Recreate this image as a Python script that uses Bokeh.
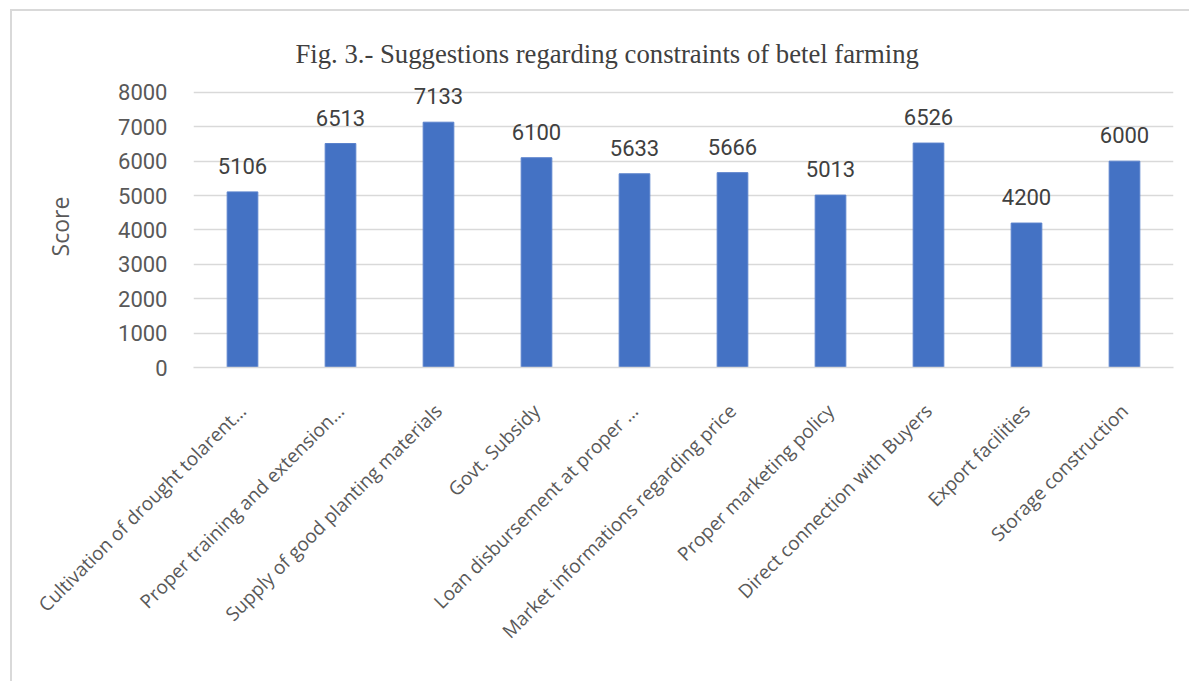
import math
from bokeh.plotting import figure
from bokeh.models import ColumnDataSource, LabelSet, FixedTicker, Range1d
from bokeh.core.properties import value
from bokeh.embed import file_html
from bokeh.resources import INLINE

categories = [
    "Cultivation of drought tolarent…",
    "Proper training and extension…",
    "Supply of good planting materials",
    "Govt. Subsidy",
    "Loan disbursement at proper …",
    "Market informations regarding price",
    "Proper marketing policy",
    "Direct connection with Buyers",
    "Export facilities",
    "Storage construction",
]
scores = [5106, 6513, 7133, 6100, 5633, 5666, 5013, 6526, 4200, 6000]
score_labels = [str(v) for v in scores]
y_ticks = [0, 1000, 2000, 3000, 4000, 5000, 6000, 7000, 8000]
title_text = "Fig. 3.- Suggestions regarding constraints of betel farming"
y_label = "Score"

src = ColumnDataSource(dict(cat=categories, score=scores, label=score_labels))

p = figure(
    x_range=categories,
    y_range=Range1d(0, 8200),
    width=1179,
    height=672,
    output_backend="svg",
    toolbar_location=None,
    min_border_left=181,
    min_border_right=18,
    min_border_top=74,
    min_border_bottom=316,
)
p.styles = {
    "margin-left": "10px",
    "margin-top": "9px",
    "border-left": "2px solid #d9d9d9",
    "border-top": "2px solid #d9d9d9",
}

p.title.text = title_text
p.title.text_font = "Liberation Serif"
p.title.text_font_size = "26.7px"
p.title.text_font_style = "normal"
p.title.text_color = "#404040"
p.title.align = "left"
p.title.offset = 102
p.title.standoff = 33

p.vbar(x="cat", top="score", width=0.313, source=src,
       fill_color="#4472C4", line_color="#5a82cc", line_width=1)

labels = LabelSet(x="cat", y="score", text="label", source=src,
                  y_offset=18, text_align="center", text_baseline="alphabetic",
                  text_font=value("Roboto"), text_font_size=value("22px"),
                  text_color="#404040")
p.add_layout(labels)

ticker = FixedTicker(ticks=y_ticks)
p.yaxis.ticker = ticker
p.yaxis.major_label_text_font = "Roboto"
p.yaxis.major_label_text_font_size = "22px"
p.yaxis.major_label_text_color = "#595959"
p.yaxis.major_tick_line_color = None
p.yaxis.minor_tick_line_color = None
p.yaxis.axis_line_color = None
p.yaxis.major_label_standoff = 20
p.yaxis.axis_label = y_label
p.yaxis.axis_label_text_font = "Open Sans"
p.yaxis.axis_label_text_font_size = "23px"
p.yaxis.axis_label_text_font_style = "normal"
p.yaxis.axis_label_text_color = "#595959"
p.yaxis.axis_label_standoff = 39

p.xaxis.major_label_orientation = math.pi / 4
p.xaxis.major_label_text_font = "Open Sans"
p.xaxis.major_label_text_font_size = "19px"
p.xaxis.major_label_text_color = "#595959"
p.xaxis.major_tick_line_color = None
p.xaxis.minor_tick_line_color = None
p.xaxis.axis_line_color = "#d9d9d9"
p.xaxis.axis_line_width = 1.5
p.xaxis.major_label_standoff = 34

p.xgrid.grid_line_color = None
p.ygrid.ticker = ticker
p.ygrid.grid_line_color = "#d9d9d9"
p.ygrid.grid_line_width = 1.5
p.outline_line_color = None

open("out.html", "w").write(file_html(p, INLINE))
